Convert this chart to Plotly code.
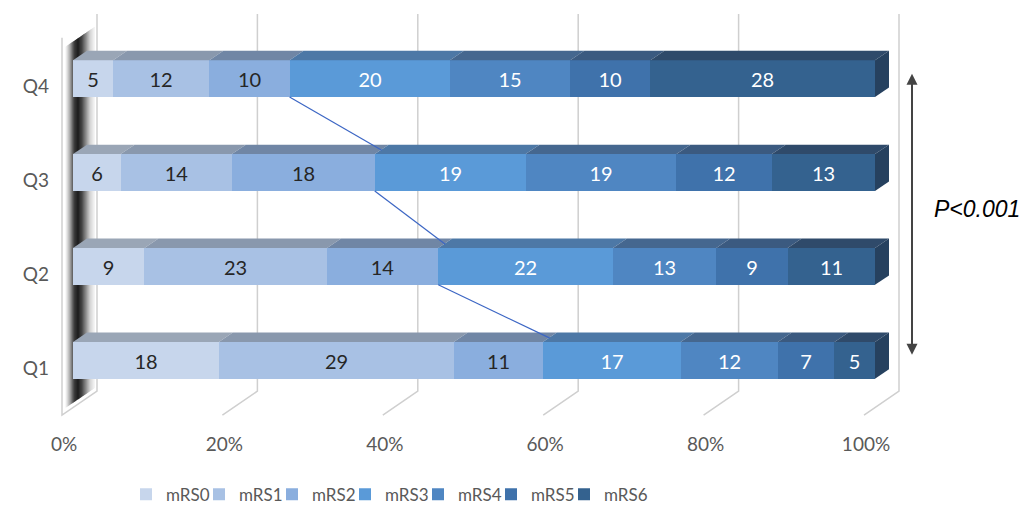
import plotly.graph_objects as go

# ---- data -------------------------------------------------------------
groups = ["Q1", "Q2", "Q3", "Q4"]
series = ["mRS0", "mRS1", "mRS2", "mRS3", "mRS4", "mRS5", "mRS6"]
mrs0 = [18, 9, 6, 5]
mrs1 = [29, 23, 14, 12]
mrs2 = [11, 14, 18, 10]
mrs3 = [17, 22, 19, 20]
mrs4 = [12, 13, 19, 15]
mrs5 = [7, 9, 12, 10]
mrs6 = [5, 11, 13, 28]
x_tick_vals = [0, 20, 40, 60, 80, 100]
x_tick_labels = ["0%", "20%", "40%", "60%", "80%", "100%"]
p_label = "P<0.001"

# ---- styling ----------------------------------------------------------
front_colors = ["#c7d6ec", "#a8c1e4", "#8aaede", "#5a9ad8", "#4f86c2", "#3f72ab", "#34628f"]
top_colors = ["#9aa6b6", "#8998ad", "#7086a5", "#4d78a6", "#45678f", "#3b5a80", "#2f4a6a"]
side_color = "#26415f"
text_colors = ["#262626", "#262626", "#262626", "white", "white", "white", "white"]
label_font = "Lato"

W, H = 1027, 513
ML, MR, MT, MB = 50, 0, 0, 85
PLOT_H = H - MT - MB
PX_X, X0_PX = 8.02, 73.0      # pixels per percent, pixel of 0 %
PX_Y, Y0_PX = 94.33, 362.0    # pixels per category step, pixel of Q1
x_range = [(ML - X0_PX) / PX_X, (W - MR - X0_PX) / PX_X]
y_range = [-(PLOT_H - Y0_PX) / PX_Y, Y0_PX / PX_Y]


def ux(px):
    return (px - X0_PX) / PX_X


def uy(py):
    return (Y0_PX - py) / PX_Y


def hex_mix(c1, c2, f):
    a = [int(c1[i:i + 2], 16) for i in (1, 3, 5)]
    b = [int(c2[i:i + 2], 16) for i in (1, 3, 5)]
    return "#" + "".join(f"{round(p + (q - p) * f):02x}" for p, q in zip(a, b))


BAR_W = 37.0 / PX_Y           # bar thickness in category units
DX, DY = 14.0 / PX_X, 9.5 / PX_Y  # depth offset of the top/side faces
BACK_DX, FRONT_DX = 24.0 / PX_X, -11.0 / PX_X
Y_GRID_TOP, Y_WALL_TOP = uy(14), uy(38)
Y_BACK_FLOOR, Y_FRONT_FLOOR = uy(393), uy(417)

values = [mrs0, mrs1, mrs2, mrs3, mrs4, mrs5, mrs6]
totals = [sum(v[i] for v in values) for i in range(len(groups))]
pct = [[v[i] * 100.0 / totals[i] for i in range(len(groups))] for v in values]
ypos = list(range(len(groups)))

fig = go.Figure()

# front faces of the stacked bars
for s, name in enumerate(series):
    fig.add_trace(go.Bar(
        y=ypos, x=pct[s], orientation="h", name=name,
        width=BAR_W,
        marker=dict(color=front_colors[s], line=dict(width=0)),
        text=[str(v) for v in values[s]],
        textposition="inside", insidetextanchor="middle", textangle=0,
        constraintext="none",
        textfont=dict(family=label_font, size=20, color=text_colors[s]),
        hoverinfo="skip",
        legendwidth=28 if s < len(series) - 1 else 50,
    ))

# top faces and the right end face of each bar
for i in ypos:
    top = i + BAR_W / 2
    bot = i - BAR_W / 2
    left = 0.0
    for s in range(len(series)):
        right = left + pct[s][i]
        fig.add_trace(go.Scatter(
            x=[left, right, right + DX, left + DX, left],
            y=[top, top, top + DY, top + DY, top],
            mode="lines", fill="toself", fillcolor=top_colors[s],
            line=dict(width=0), showlegend=False, hoverinfo="skip",
        ))
        left = right
    fig.add_trace(go.Scatter(
        x=[left, left + DX, left + DX, left, left],
        y=[top, top + DY, bot + DY, bot, top],
        mode="lines", fill="toself", fillcolor=side_color,
        line=dict(width=0), showlegend=False, hoverinfo="skip",
    ))

# series lines joining the start of mRS3 between neighbouring groups
start3 = [pct[0][i] + pct[1][i] + pct[2][i] for i in ypos]
for i in range(len(groups) - 1, 0, -1):
    fig.add_trace(go.Scatter(
        x=[start3[i], start3[i - 1] + DX * 0.5],
        y=[i - BAR_W / 2, i - 1 + BAR_W / 2 + DY * 0.4],
        mode="lines", line=dict(color="#3c66c4", width=1.2),
        showlegend=False, hoverinfo="skip",
    ))

shapes = []
# back gridlines folding onto the floor
for t in x_tick_vals[1:]:
    shapes.append(dict(
        type="path", xref="x", yref="y", layer="below",
        path=f"M{t + BACK_DX},{Y_GRID_TOP} L{t + BACK_DX},{Y_BACK_FLOOR} L{t + FRONT_DX},{Y_FRONT_FLOOR}",
        line=dict(color="#cfcfcf", width=1.5),
    ))

# shaded side wall at 0 %, built from thin strips of a grey ramp
wall_anchors = ["#eeeeee", "#a0a0a0", "#404040", "#1a1a1a", "#303030", "#777777", "#c8c8c8", "#f0f0f0"]
n = 28
x_a, x_b = FRONT_DX + 0.45, BACK_DX - 0.3
for k in range(n):
    f = k / (n - 1) * (len(wall_anchors) - 1)
    j = min(int(f), len(wall_anchors) - 2)
    col = hex_mix(wall_anchors[j], wall_anchors[j + 1], f - j)
    xa = x_a + (x_b - x_a) * k / n
    xb = x_a + (x_b - x_a) * (k + 1) / n + 0.02
    fa = (xa - FRONT_DX) / (BACK_DX - FRONT_DX)
    fb = (xb - FRONT_DX) / (BACK_DX - FRONT_DX)
    ya_top = Y_WALL_TOP + (Y_GRID_TOP - Y_WALL_TOP) * fa
    yb_top = Y_WALL_TOP + (Y_GRID_TOP - Y_WALL_TOP) * fb
    ya_bot = Y_FRONT_FLOOR + (Y_BACK_FLOOR - Y_FRONT_FLOOR) * fa
    yb_bot = Y_FRONT_FLOOR + (Y_BACK_FLOOR - Y_FRONT_FLOOR) * fb
    shapes.append(dict(
        type="path", xref="x", yref="y", layer="below",
        path=f"M{xa},{ya_top - 0.12} L{xb},{yb_top - 0.12} L{xb},{yb_bot + 0.05} L{xa},{ya_bot + 0.05} Z",
        fillcolor=col, line=dict(width=0),
    ))
shapes.append(dict(
    type="path", xref="x", yref="y", layer="below",
    path=(f"M{FRONT_DX},{Y_WALL_TOP} L{FRONT_DX},{Y_FRONT_FLOOR} "
          f"L{BACK_DX},{Y_BACK_FLOOR} L{BACK_DX},{Y_GRID_TOP}"),
    line=dict(color="#cfcfcf", width=1.5),
))

annotations = [
    dict(x=ux(912), y=uy(74), ax=ux(912), ay=uy(358), xref="x", yref="y",
         axref="x", ayref="y", text="", showarrow=True, arrowhead=2,
         arrowside="end+start", arrowsize=1.1, arrowwidth=2, arrowcolor="#444444"),
    dict(x=ux(977), y=uy(210), xref="x", yref="y", text=p_label, showarrow=False,
         font=dict(family="Liberation Sans", size=23, color="black", style="italic")),
]

fig.update_layout(
    width=W, height=H,
    margin=dict(l=ML, r=MR, t=MT, b=MB),
    barmode="stack",
    bargap=0,
    plot_bgcolor="white", paper_bgcolor="white",
    shapes=shapes, annotations=annotations,
    xaxis=dict(range=x_range, tickvals=x_tick_vals, ticktext=x_tick_labels,
               showgrid=False, zeroline=False, showline=False, ticks="",
               ticklabelshift=-9, ticklabelstandoff=5,
               tickfont=dict(family=label_font, size=19, color="#595959")),
    yaxis=dict(range=y_range, tickvals=ypos, ticktext=groups,
               showgrid=False, zeroline=False, showline=False, ticks="",
               ticklabelshift=8,
               tickfont=dict(family=label_font, size=19, color="#595959")),
    legend=dict(orientation="h", x=(126 - ML) / (W - ML - MR), xanchor="left",
                y=-(497 - PLOT_H) / PLOT_H, yanchor="middle",
                font=dict(family=label_font, size=17, color="#595959"),
                itemwidth=30, traceorder="normal"),
    showlegend=True,
)

fig.write_html("out.html")
